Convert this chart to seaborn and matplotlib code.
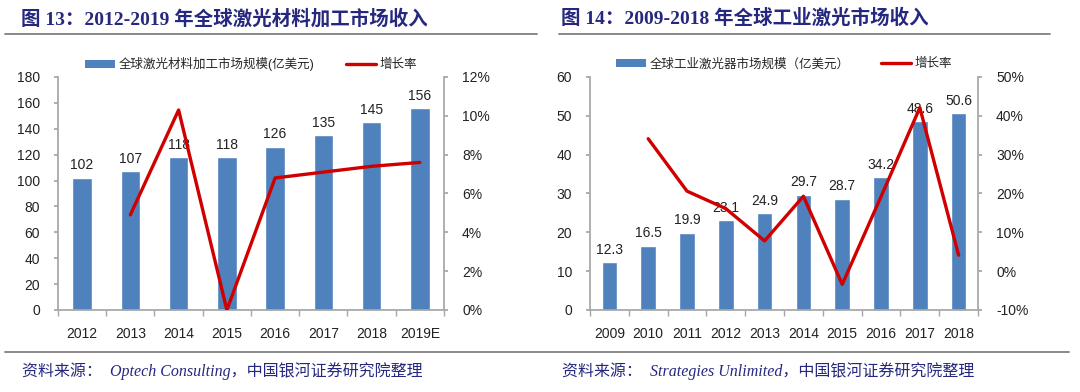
import numpy as np
import pandas as pd
import matplotlib.pyplot as plt
import seaborn as sns
from matplotlib.lines import Line2D
from matplotlib.patches import Patch
from matplotlib.ticker import PercentFormatter, MultipleLocator, FixedLocator

# ===============================
# Dados
# ===============================
anos_a = ["2012", "2013", "2014", "2015", "2016", "2017", "2018", "2019E"]
receita_a = [102, 107, 118, 118, 126, 135, 145, 156]
cresc_a = [np.nan, 4.9, 10.3, 0.0, 6.8, 7.1, 7.4, 7.6]

anos_b = ["2009", "2010", "2011", "2012", "2013", "2014", "2015", "2016", "2017", "2018"]
receita_b = [12.3, 16.5, 19.9, 23.1, 24.9, 29.7, 28.7, 34.2, 48.6, 50.6]
cresc_b = [np.nan, 34.1, 20.6, 16.1, 7.8, 19.3, -3.4, 19.2, 42.1, 4.1]

titulo_a = "图 13：2012-2019 年全球激光材料加工市场收入"
titulo_b = "图 14：2009-2018 年全球工业激光市场收入"
legenda_a = "全球激光材料加工市场规模(亿美元)"
legenda_b = "全球工业激光器市场规模（亿美元）"
legenda_linha = "增长率"
fonte_a = "资料来源：  Optech Consulting，中国银河证券研究院整理"
fonte_b = "资料来源：  Strategies Unlimited，中国银河证券研究院整理"

# ===============================
# Estilo
# ===============================
sns.set_theme(style="white")
plt.rcParams['font.family'] = ['Liberation Sans', 'Noto Sans CJK SC', 'DejaVu Sans']
plt.rcParams['axes.unicode_minus'] = False

AZUL = "#4F81BD"
VERMELHO = "#D00000"
CINZA = "#A6A6A6"
NAVY = "#26287F"
FS = 10


def painel(ax, anos, receita, cresc, ymax, ystep, y2min, y2max, y2step, leg_txt, fmt):
    df = pd.DataFrame({"ano": anos, "receita": receita, "cresc": cresc,
                       "pos": np.arange(len(anos))})
    sns.barplot(data=df, x="ano", y="receita", color=AZUL, width=0.4,
                saturation=1, ax=ax, zorder=2)
    ax.set_xlim(-0.5, len(anos) - 0.5)
    ax.set_ylim(0, ymax)
    ax.yaxis.set_major_locator(MultipleLocator(ystep))
    ax.set_xlabel("")
    ax.set_ylabel("")
    for p, v in zip(df["pos"], df["receita"]):
        ax.annotate(fmt(v), (p, v), xytext=(0, 4), textcoords="offset points",
                    ha="center", va="bottom", fontsize=FS, color="#222222", zorder=3)

    ax2 = ax.twinx()
    dl = df.dropna(subset=["cresc"])
    sns.lineplot(data=dl, x="pos", y="cresc", color=VERMELHO, linewidth=2.4,
                 ax=ax2, zorder=4)
    ax2.set_ylim(y2min, y2max)
    ax2.yaxis.set_major_locator(MultipleLocator(y2step))
    ax2.yaxis.set_major_formatter(PercentFormatter(decimals=0))
    ax2.set_xlim(-0.5, len(anos) - 0.5)
    ax2.set_xlabel("")
    ax2.set_ylabel("")

    for a in (ax, ax2):
        for s in a.spines.values():
            s.set_visible(False)
        a.tick_params(colors="#222222", labelsize=FS)
    ax.spines["left"].set_visible(True)
    ax.spines["bottom"].set_visible(True)
    ax.spines["left"].set_color(CINZA)
    ax.spines["bottom"].set_color(CINZA)
    ax2.spines["right"].set_visible(True)
    ax2.spines["right"].set_color(CINZA)
    ax.tick_params(axis="y", left=True, length=3, color=CINZA, pad=10)
    ax.tick_params(axis="x", bottom=False, pad=6)
    ax.xaxis.set_minor_locator(FixedLocator(np.arange(-0.5, len(anos), 1.0)))
    ax.tick_params(axis="x", which="minor", bottom=True, length=4, color=CINZA)
    ax2.tick_params(axis="y", right=True, length=3, color=CINZA, pad=10)

    handles = [Patch(facecolor=AZUL, edgecolor="none"),
               Line2D([0], [0], color=VERMELHO, linewidth=2.4)]
    leg = ax.legend(handles, [leg_txt, legenda_linha], ncol=2, frameon=False,
                    loc="center", bbox_to_anchor=(0.5, 1.055), fontsize=9,
                    handlelength=2.4, handleheight=0.6, columnspacing=2.5,
                    handletextpad=0.3, borderaxespad=0)
    leg.set_zorder(5)
    return ax2


fig = plt.figure(figsize=(10.8, 3.92), dpi=100)
ax_a = fig.add_axes([0.0537, 0.2092, 0.3574, 0.5944])
ax_b = fig.add_axes([0.5463, 0.2092, 0.3593, 0.5944])

painel(ax_a, anos_a, receita_a, cresc_a, 180, 20, 0, 12, 2, legenda_a, lambda v: f"{v:.0f}")
painel(ax_b, anos_b, receita_b, cresc_b, 60, 10, -10, 50, 10, legenda_b, lambda v: f"{v:.1f}")

# titulos
fam_tit = ['Liberation Serif', 'Noto Sans CJK SC']
fig.text(0.019, 0.953, titulo_a, fontsize=14, fontweight="bold", color=NAVY,
         family=fam_tit, va="center", ha="left")
fig.text(0.519, 0.953, titulo_b, fontsize=14, fontweight="bold", color=NAVY,
         family=fam_tit, va="center", ha="left")

# linhas cinza
fig.add_artist(Line2D([0.005, 0.497], [0.913, 0.913], color="#808080", linewidth=1.3))
fig.add_artist(Line2D([0.518, 0.972], [0.913, 0.913], color="#808080", linewidth=1.3))
fig.add_artist(Line2D([0.005, 0.99], [0.102, 0.102], color="#808080", linewidth=1.3))

# fontes
fam_src = ['Liberation Serif', 'Noto Sans CJK SC']
fig.text(0.020, 0.054, fonte_a, fontsize=11.5, style="italic", color=NAVY,
         family=fam_src, va="center", ha="left")
fig.text(0.520, 0.054, fonte_b, fontsize=11.5, style="italic", color=NAVY,
         family=fam_src, va="center", ha="left")

plt.savefig("out.png", dpi=100)
